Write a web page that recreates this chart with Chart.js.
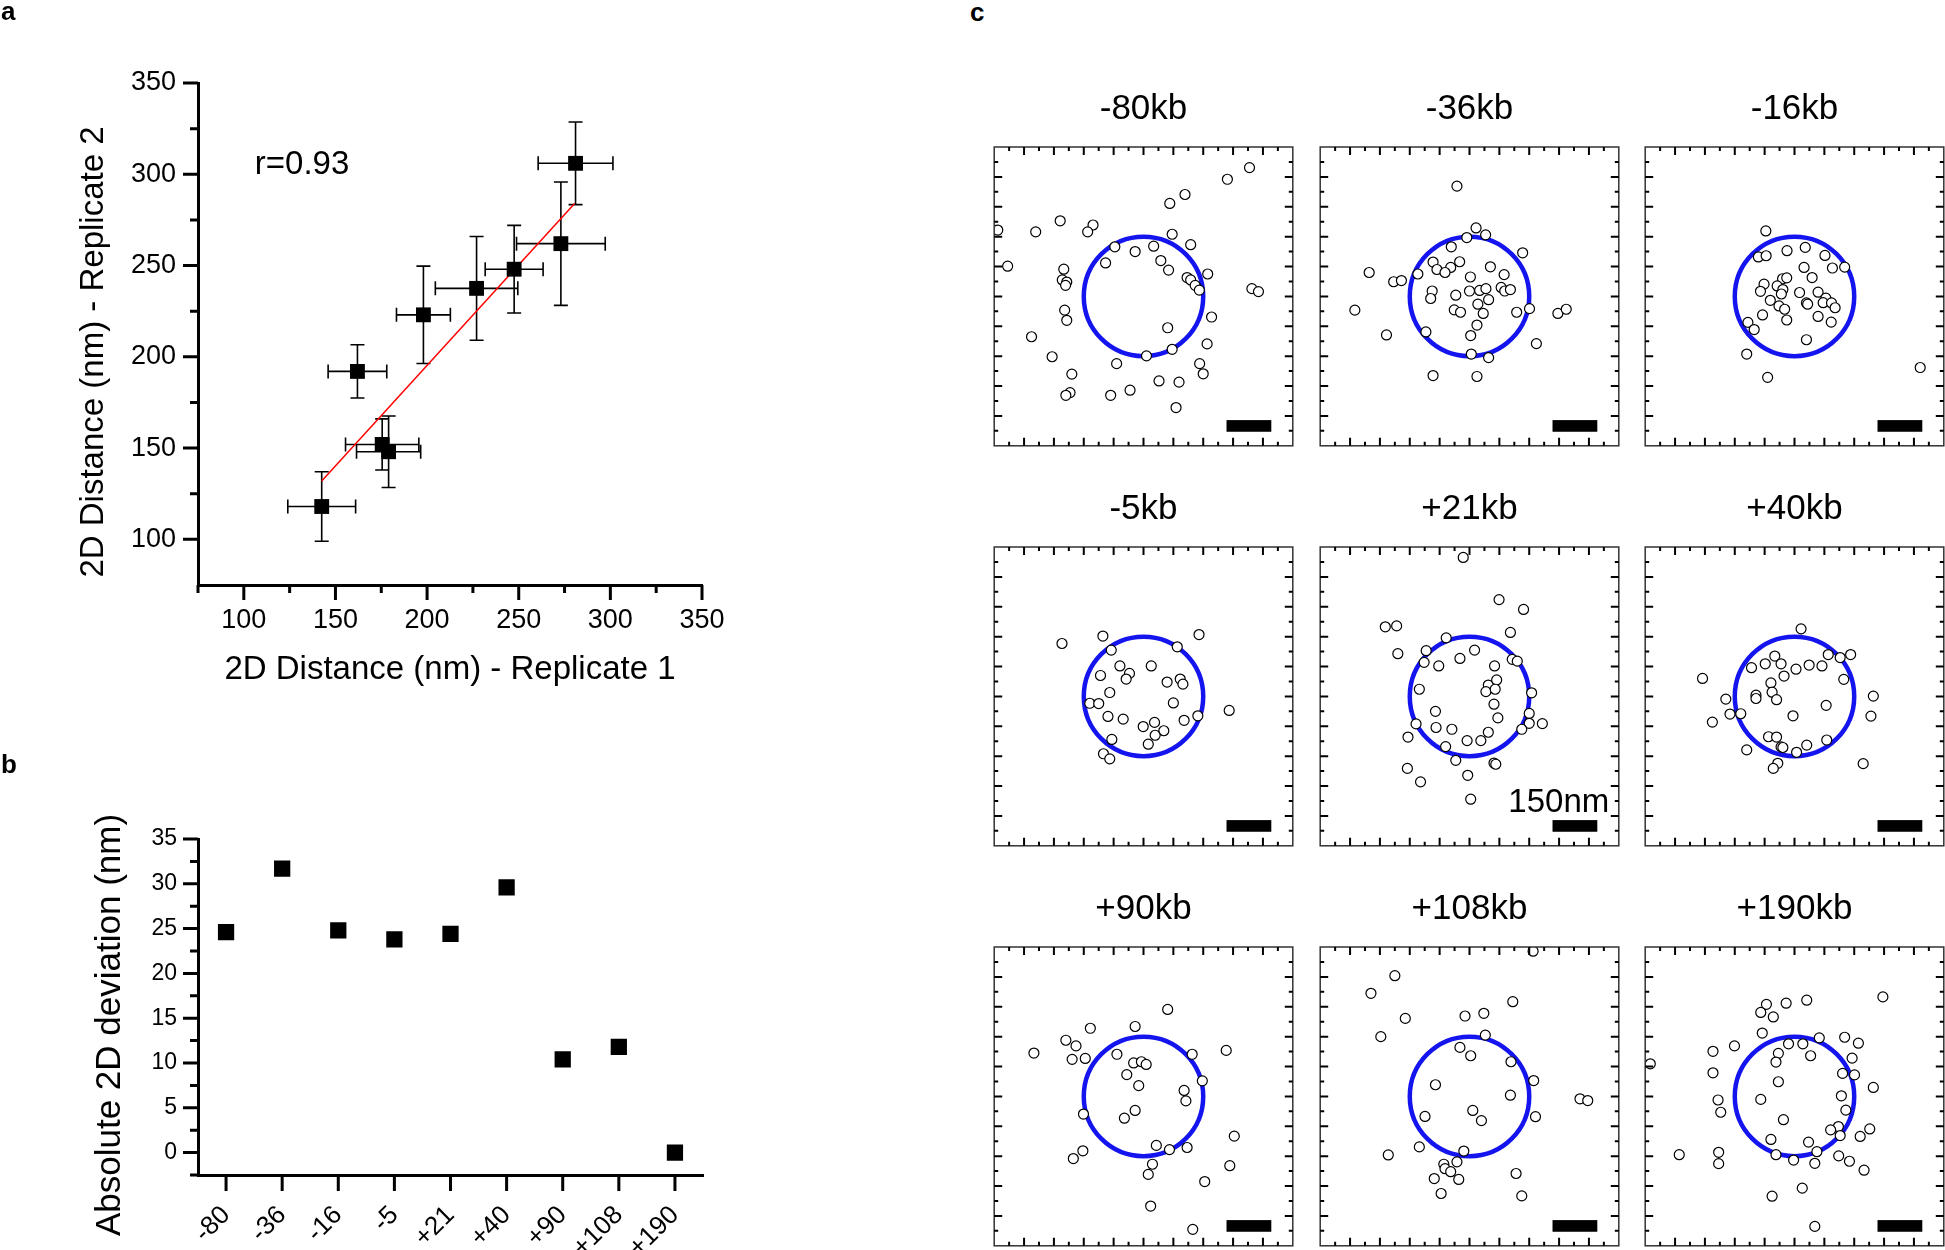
<!DOCTYPE html>
<html>
<head>
<meta charset="utf-8">
<script src="https://cdn.jsdelivr.net/npm/chart.js@4.4.0/dist/chart.umd.min.js"></script>
<style>
  body { margin: 0; background: #fff; overflow: hidden; }
  #fig { position: relative; width: 1945px; height: 1250px; overflow: hidden; font-family: "Liberation Sans", Arial, sans-serif; }
  #fig canvas { position: absolute; }
  .panel-label { position: absolute; font-weight: bold; font-size: 26px; line-height: 26px; }
</style>
</head>
<body>
<div id="fig">
  <canvas id="chartA" width="740" height="720" style="left:0;top:0"></canvas>
  <canvas id="chartB" width="740" height="520" style="left:0;top:730px"></canvas>
  <div class="panel-label" style="left:1px;top:-2px">a</div>
  <div class="panel-label" style="left:1px;top:751px">b</div>
  <div class="panel-label" style="left:970px;top:-1px">c</div>
</div>
<script>
// ---- panel a: replicate 1 vs replicate 2 ----
var repX = [142.5, 162, 175.5, 179, 198, 227, 247.5, 273, 281];
var repY = [118, 192, 152, 148, 223, 237.5, 248, 262, 306];
var repXErr = [18.5, 16, 20, 17.5, 14.7, 22.5, 15.8, 24.2, 20.4];
var repYErr = [19, 14.6, 14, 19.6, 26.7, 28.4, 24, 33.8, 22.6];
var fitX = [142.5, 280.5];
var fitY = [132, 284];

// ---- panel b: absolute deviation per locus ----
var locusLabels = ['-80', '-36', '-16', '-5', '+21', '+40', '+90', '+108', '+190'];
var absDev = [24.6, 31.7, 24.8, 23.8, 24.4, 29.6, 10.4, 11.8, 0];

// ---- panel c: localisations per locus (nm) ----
var locusTitles = ['-80kb', '-36kb', '-16kb', '-5kb', '+21kb', '+40kb', '+90kb', '+108kb', '+190kb'];
var m80X = [355,281,139,88,-279,-169,-187,-361,-488,96,158,-96,-28,34,58,-127,-455,-267,84,215,146,158,-272,-257,-261,173,187,363,385,-264,-257,228,81,-375,213,96,10,-306,-90,188,-240,200,52,119,-45,-246,-260,-110,109];
var m80Y = [431,392,341,311,253,239,216,216,222,208,173,166,150,168,120,112,101,91,88,75,63,55,55,48,37,37,21,26,16,-46,-80,-69,-105,-135,-159,-177,-199,-202,-225,-225,-260,-259,-283,-287,-314,-322,-331,-331,-372];
var m36X = [-42,22,54,-9,-61,178,-122,-33,-109,-63,-82,70,-336,-173,-254,-228,116,3,-125,-130,-46,0,34,55,106,118,137,64,28,-51,-30,46,158,201,-384,296,324,25,-146,-278,4,224,6,64,-122,25];
var m36Y = [369,229,206,197,166,146,115,116,90,97,80,99,80,75,49,53,73,65,18,-7,4,18,20,26,30,18,23,-11,-26,-45,-53,-57,-53,-41,-46,-57,-43,-96,-119,-129,-131,-158,-193,-205,-265,-268];
var m16X = [-96,-121,-95,-25,36,102,32,127,168,-40,-26,59,-102,-58,-39,-114,-44,17,79,105,-81,40,44,96,124,-52,-33,136,-107,79,-156,-26,123,-135,40,-160,-90,421];
var m16Y = [219,132,136,153,164,137,97,95,98,59,62,63,41,35,23,17,8,13,14,-6,-13,-22,-26,-21,-22,-32,-43,-38,-62,-67,-87,-79,-86,-111,-145,-193,-271,-238];
var m5X = [-273,-136,186,-108,113,-79,26,-144,-47,-58,79,123,132,-113,-180,-150,100,287,182,-119,-68,136,37,-1,68,39,-106,16,-134,-113];
var m5Y = [177,202,207,155,166,102,102,70,77,58,48,58,41,13,-23,-24,-22,-47,-65,-67,-76,-80,-87,-101,-115,-130,-144,-160,-192,-209];
var p21X = [-21,99,181,-282,-244,137,-78,-145,-240,17,-32,143,160,-152,-103,84,63,91,-168,55,86,208,82,-114,200,95,-179,-112,-59,200,244,175,-206,-8,38,63,-80,-46,82,88,-208,-6,-164,4];
var p21Y = [465,324,291,233,236,214,196,153,143,155,127,124,118,114,102,102,38,55,24,16,24,12,-26,-50,-57,-72,-92,-104,-110,-90,-91,-110,-136,-148,-148,-120,-168,-214,-223,-227,-241,-264,-286,-344];
var p40X = [22,113,153,188,-66,-98,-45,-144,5,49,92,-35,165,-308,-79,-75,-129,-129,-60,-230,264,106,-216,-180,-5,256,-275,-87,-60,108,-45,-39,41,-160,7,-56,-71,230];
var p40Y = [226,140,130,140,135,109,109,96,91,105,102,68,57,60,45,14,4,-7,-11,-9,1,-30,-59,-58,-65,-66,-86,-135,-136,-146,-169,-171,-163,-179,-187,-224,-241,-225];
var p90X = [81,-28,-178,-260,-226,-367,277,163,-89,-239,-195,-33,-7,9,-56,197,-16,136,142,-28,-64,-201,304,43,87,146,-203,-235,30,289,16,205,24,165];
var p90Y = [291,234,228,188,169,145,154,141,141,124,127,112,116,107,73,52,36,20,-15,-47,-73,-59,-133,-164,-178,-171,-182,-208,-227,-232,-261,-285,-367,-445];
var p108X = [213,-250,-330,145,-215,-15,48,-297,53,-32,4,139,215,-114,137,370,396,11,-149,221,40,-168,-19,-272,-42,-86,-82,-63,156,-118,-36,-95,175];
var p108Y = [486,404,345,317,261,269,278,200,205,164,136,116,53,39,4,-8,-14,-47,-67,-68,-81,-169,-183,-196,-219,-227,-242,-252,-258,-275,-278,-325,-333];
var p190X = [296,-94,-28,41,-113,-71,-108,83,168,214,-201,-273,-20,28,-54,54,193,-62,-483,-273,161,201,-54,264,157,-113,-256,-247,172,-37,147,121,252,153,220,-79,47,-386,-254,-62,-3,75,148,68,184,-254,233,26,-75,68];
var p190Y = [333,308,312,322,281,266,212,196,198,178,169,151,176,176,144,136,128,115,109,79,77,72,49,30,2,-10,-12,-53,-46,-78,-101,-112,-109,-131,-134,-144,-153,-195,-187,-195,-213,-185,-199,-224,-217,-225,-247,-307,-334,-435];
var locusX = [m80X, m36X, m16X, m5X, p21X, p40X, p90X, p108X, p190X];
var locusY = [m80Y, m36Y, m16Y, m5Y, p21Y, p40Y, p90Y, p108Y, p190Y];

var baseFamily = '"Liberation Sans", Arial, Helvetica, sans-serif';
Chart.defaults.font.family = baseFamily;
Chart.defaults.color = '#000';
Chart.defaults.animation = false;
Chart.defaults.plugins.legend.display = false;
Chart.defaults.plugins.tooltip.enabled = false;

// outward tick marks along an axis, length chosen per value
function drawAxisTicks(ctx, scale, values, lenFn) {
  ctx.save();
  ctx.strokeStyle = '#000';
  ctx.lineWidth = 3;
  ctx.beginPath();
  values.forEach(function(v) {
    var p = scale.getPixelForValue(v);
    var len = lenFn(v);
    if (scale.isHorizontal()) {
      ctx.moveTo(p, scale.top); ctx.lineTo(p, scale.top + len);
    } else {
      ctx.moveTo(scale.right, p); ctx.lineTo(scale.right - len, p);
    }
  });
  ctx.stroke();
  ctx.restore();
}

function drawVerticalTitle(ctx, text, size, x, y) {
  ctx.save();
  ctx.font = size + 'px ' + baseFamily;
  ctx.fillStyle = '#000';
  ctx.textAlign = 'center';
  ctx.textBaseline = 'middle';
  ctx.translate(x, y);
  ctx.rotate(-Math.PI / 2);
  ctx.fillText(text, 0, 0);
  ctx.restore();
}

var panelAPlugin = {
  id: 'panelA',
  beforeDatasetsDraw: function(chart) {
    var ctx = chart.ctx, xs = chart.scales.x, ys = chart.scales.y;
    var cap = 7;
    ctx.save();
    ctx.strokeStyle = '#000';
    ctx.lineWidth = 1.6;
    ctx.beginPath();
    repX.forEach(function(x, i) {
      var px = xs.getPixelForValue(x), py = ys.getPixelForValue(repY[i]);
      var x0 = xs.getPixelForValue(x - repXErr[i]), x1 = xs.getPixelForValue(x + repXErr[i]);
      var y0 = ys.getPixelForValue(repY[i] - repYErr[i]), y1 = ys.getPixelForValue(repY[i] + repYErr[i]);
      ctx.moveTo(x0, py); ctx.lineTo(x1, py);
      ctx.moveTo(x0, py - cap); ctx.lineTo(x0, py + cap);
      ctx.moveTo(x1, py - cap); ctx.lineTo(x1, py + cap);
      ctx.moveTo(px, y0); ctx.lineTo(px, y1);
      ctx.moveTo(px - cap, y0); ctx.lineTo(px + cap, y0);
      ctx.moveTo(px - cap, y1); ctx.lineTo(px + cap, y1);
    });
    ctx.stroke();
    ctx.restore();
  },
  afterDraw: function(chart) {
    var ctx = chart.ctx, xs = chart.scales.x, ys = chart.scales.y;
    drawAxisTicks(ctx, xs, xs.ticks.map(function(t) { return t.value; }),
      function(v) { return v % 50 === 0 ? 15 : 8; });
    drawAxisTicks(ctx, ys, ys.ticks.map(function(t) { return t.value; }).filter(function(v) { return v > 75; }),
      function(v) { return v % 50 === 0 ? 15 : 8; });
    drawVerticalTitle(ctx, '2D Distance (nm) - Replicate 2', 33, 94, 352);
    ctx.save();
    ctx.font = '33px ' + baseFamily;
    ctx.fillStyle = '#000';
    ctx.textBaseline = 'middle';
    ctx.fillText('r=0.93', xs.getPixelForValue(106), ys.getPixelForValue(305));
    ctx.restore();
  }
};

new Chart(document.getElementById('chartA'), {
  type: 'scatter',
  data: {
    datasets: [{
      data: repX.map(function(x, i) { return {x: x, y: repY[i]}; }),
      pointStyle: 'rect',
      pointRadius: 10.5,
      pointBackgroundColor: '#000',
      pointBorderColor: '#000',
      pointBorderWidth: 0
    }, {
      data: fitX.map(function(x, i) { return {x: x, y: fitY[i]}; }),
      showLine: true,
      borderColor: '#ff0000',
      borderWidth: 1.5,
      pointRadius: 0
    }]
  },
  options: {
    responsive: false,
    layout: { padding: { left: 0, top: 83, right: 38, bottom: 0 } },
    scales: {
      x: {
        type: 'linear', min: 75, max: 350,
        afterFit: function(s) { s.height = 135; },
        ticks: { stepSize: 25, autoSkip: false, maxRotation: 0, padding: 4, font: { size: 27 },
          callback: function(v) { return (v % 50 === 0 && v >= 100) ? v : ''; } },
        grid: { drawOnChartArea: false, tickLength: 15, tickColor: 'rgba(0,0,0,0)' },
        border: { color: '#000', width: 3 },
        title: { display: true, text: '2D Distance (nm) - Replicate 1', font: { size: 33 }, padding: { top: 0, bottom: 30 } }
      },
      y: {
        type: 'linear', min: 75, max: 350,
        afterFit: function(s) { s.width = 198; },
        ticks: { stepSize: 25, autoSkip: false, padding: 7, font: { size: 27 },
          callback: function(v) { return (v % 50 === 0 && v >= 100) ? v : ''; } },
        grid: { drawOnChartArea: false, tickLength: 15, tickColor: 'rgba(0,0,0,0)' },
        border: { color: '#000', width: 3 }
      }
    }
  },
  plugins: [panelAPlugin]
});

var panelBPlugin = {
  id: 'panelB',
  afterDraw: function(chart) {
    var ctx = chart.ctx, xs = chart.scales.x, ys = chart.scales.y, a = chart.chartArea;
    // the x axis runs a little past the y axis on the left
    ctx.save();
    ctx.fillStyle = '#000';
    ctx.fillRect(a.left - 8, a.bottom - 1.5, 8, 3);
    ctx.restore();
    drawAxisTicks(ctx, xs, locusLabels.map(function(l, i) { return i; }), function() { return 16; });
    drawAxisTicks(ctx, ys, ys.ticks.map(function(t) { return t.value; }).filter(function(v) { return v > -2.5; }),
      function(v) { return v % 5 === 0 ? 15 : 8; });
    drawVerticalTitle(ctx, 'Absolute 2D deviation (nm)', 35, 110, 295);
  }
};

new Chart(document.getElementById('chartB'), {
  type: 'line',
  data: {
    labels: locusLabels,
    datasets: [{
      data: absDev,
      showLine: false,
      pointStyle: 'rect',
      pointRadius: 11.5,
      pointBackgroundColor: '#000',
      pointBorderColor: '#000',
      pointBorderWidth: 0
    }]
  },
  options: {
    responsive: false,
    layout: { padding: { left: 0, top: 109, right: 37, bottom: 0 } },
    scales: {
      x: {
        type: 'category', offset: true,
        afterFit: function(s) { s.height = 75; },
        ticks: { minRotation: 45, maxRotation: 45, autoSkip: false, padding: 9, font: { size: 26 } },
        grid: { drawOnChartArea: false, offset: false, tickLength: 16, tickColor: 'rgba(0,0,0,0)' },
        border: { color: '#000', width: 3 }
      },
      y: {
        type: 'linear', min: -2.5, max: 35,
        afterFit: function(s) { s.width = 198; },
        ticks: { stepSize: 2.5, autoSkip: false, padding: 6, font: { size: 23 },
          callback: function(v) { return v % 5 === 0 ? v : ''; } },
        grid: { drawOnChartArea: false, tickLength: 15, tickColor: 'rgba(0,0,0,0)' },
        border: { color: '#000', width: 3 }
      }
    }
  },
  plugins: [panelBPlugin]
});

// ---- panel c: one small chart per locus ----
var locusPlugin = {
  id: 'locus',
  beforeDatasetsDraw: function(chart, args, opts) {
    var ctx = chart.ctx, xs = chart.scales.x, ys = chart.scales.y;
    var cx = xs.getPixelForValue(0), cy = ys.getPixelForValue(0);
    var rx = Math.abs(xs.getPixelForValue(opts.radius) - cx);
    var ry = Math.abs(ys.getPixelForValue(opts.radius) - cy);
    ctx.save();
    ctx.strokeStyle = '#1414ee';
    ctx.lineWidth = 4.5;
    ctx.beginPath();
    ctx.ellipse(cx, cy, rx, ry, 0, 0, 2 * Math.PI);
    ctx.stroke();
    // 150 nm scale bar
    var bx0 = xs.getPixelForValue(278), bx1 = xs.getPixelForValue(278 + opts.bar);
    var by0 = ys.getPixelForValue(-414), by1 = ys.getPixelForValue(-453);
    ctx.fillStyle = '#000';
    ctx.fillRect(bx0, by0, bx1 - bx0, by1 - by0);
    if (opts.barText) {
      ctx.font = '33px ' + baseFamily;
      ctx.textAlign = 'right';
      ctx.textBaseline = 'middle';
      ctx.fillText(opts.bar + 'nm', xs.getPixelForValue(468), ys.getPixelForValue(-357));
    }
    ctx.restore();
  },
  afterDraw: function(chart) {
    var ctx = chart.ctx, a = chart.chartArea, xs = chart.scales.x, ys = chart.scales.y;
    ctx.save();
    ctx.strokeStyle = '#333';
    ctx.lineWidth = 1.5;
    ctx.strokeRect(a.left, a.top, a.right - a.left, a.bottom - a.top);
    ctx.strokeStyle = '#000';
    ctx.lineWidth = 2;
    ctx.beginPath();
    for (var v = -450; v <= 450; v += 50) {
      var len = (v % 100 === 0) ? 8 : 4;
      var px = xs.getPixelForValue(v), py = ys.getPixelForValue(v);
      ctx.moveTo(px, a.top); ctx.lineTo(px, a.top + len);
      ctx.moveTo(px, a.bottom); ctx.lineTo(px, a.bottom - len);
      ctx.moveTo(a.left, py); ctx.lineTo(a.left + len, py);
      ctx.moveTo(a.right, py); ctx.lineTo(a.right - len, py);
    }
    ctx.stroke();
    ctx.restore();
  }
};

var colLeft = [994, 1320, 1645];
var rowTop = [147, 547, 947];
var boxSize = 299;
var fig = document.getElementById('fig');

locusTitles.forEach(function(title, k) {
  var cv = document.createElement('canvas');
  cv.width = boxSize + 12;
  cv.height = boxSize + 76;
  cv.style.left = (colLeft[k % 3] - 6) + 'px';
  cv.style.top = (rowTop[Math.floor(k / 3)] - 70) + 'px';
  fig.appendChild(cv);
  var xs = locusX[k], ys = locusY[k];
  new Chart(cv, {
    type: 'scatter',
    data: {
      datasets: [{
        data: xs.map(function(x, i) { return {x: x, y: ys[i]}; }),
        pointRadius: 5,
        pointBorderWidth: 1.2,
        pointBorderColor: '#000',
        pointBackgroundColor: '#fff'
      }]
    },
    options: {
      responsive: false,
      layout: { padding: { left: 6, right: 6, top: 0, bottom: 6 } },
      scales: {
        x: { type: 'linear', min: -500, max: 500, display: false },
        y: { type: 'linear', min: -500, max: 500, display: false }
      },
      plugins: {
        title: { display: true, text: title, color: '#000', font: { size: 35, weight: 'normal' }, padding: { top: 11, bottom: 17 } },
        locus: { radius: 200, bar: 150, barText: title === '+21kb' }
      }
    },
    plugins: [locusPlugin]
  });
});
</script>
</body>
</html>
